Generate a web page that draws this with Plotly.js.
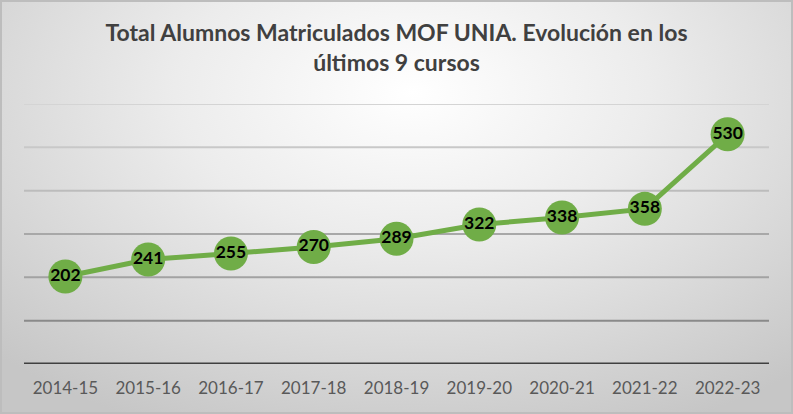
<!DOCTYPE html>
<html><head><meta charset="utf-8">
<script src="https://cdn.plot.ly/plotly-3.0.1.min.js"></script>
<style>
html,body{margin:0;padding:0;}
#wrap{width:793px;height:414px;box-sizing:border-box;border:2px solid #bdbdbd;
background:radial-gradient(ellipse 75% 90% at 52% 22%, #ffffff 0%, #ececec 40%, #d6d6d6 75%, #c6c6c6 100%);}
#chart{width:789px;height:410px;}
</style></head>
<body><div id="wrap"><div id="chart"></div></div>
<script>
const cursos = ["2014-15","2015-16","2016-17","2017-18","2018-19","2019-20","2020-21","2021-22","2022-23"];
const alumnos = [202,241,255,270,289,322,338,358,530];
const gridValues = [100,200,300,400,500,600];
const gridColors = ["#8a8a8a","#a2a2a2","#a8a8a8","#bcbcbc","#c8c8c8","#d4d4d4"];

const shapes = gridValues.map((v,i)=>({type:'line',xref:'paper',yref:'y',x0:0,x1:1,y0:v,y1:v,
  line:{color:gridColors[i],width:2},layer:'below'}));
shapes.push({type:'line',xref:'paper',yref:'y',x0:0,x1:1,y0:0,y1:0,line:{color:'#404040',width:3},layer:'below'});

const trace = {
  x: cursos, y: alumnos, type:'scatter', mode:'lines+markers+text',
  text: alumnos.map(String), textposition:'middle center',
  textfont:{family:'Lato, Carlito, sans-serif', size:17.5, color:'#000000', weight:'bold'},
  line:{color:'#70ad47', width:5},
  marker:{color:'#70ad47', size:34, line:{width:0}},
  hoverinfo:'none', cliponaxis:false
};

const layout = {
  width:789, height:410,
  margin:{l:22,r:22,t:102,b:48},
  paper_bgcolor:'rgba(0,0,0,0)', plot_bgcolor:'rgba(0,0,0,0)',
  title:{text:'Total Alumnos Matriculados MOF UNIA. Evolución en los<br>últimos 9 cursos',
    font:{family:'Lato, Carlito, sans-serif', size:23, color:'#404040', weight:'bold'},
    x:0.5, xanchor:'center', y:0.905, yanchor:'top'},
  xaxis:{type:'category', showgrid:false, zeroline:false, showline:false, ticks:'',
    ticklabelstandoff:12,
    tickfont:{family:'Lato, Carlito, sans-serif', size:17, color:'#595959'}, range:[-0.5,8.5], fixedrange:true},
  yaxis:{range:[0,600], showgrid:false, zeroline:false, showticklabels:false, showline:false, fixedrange:true},
  shapes: shapes,
  showlegend:false
};
Plotly.newPlot('chart',[trace],layout,{displayModeBar:false,staticPlot:true});
</script></body></html>
